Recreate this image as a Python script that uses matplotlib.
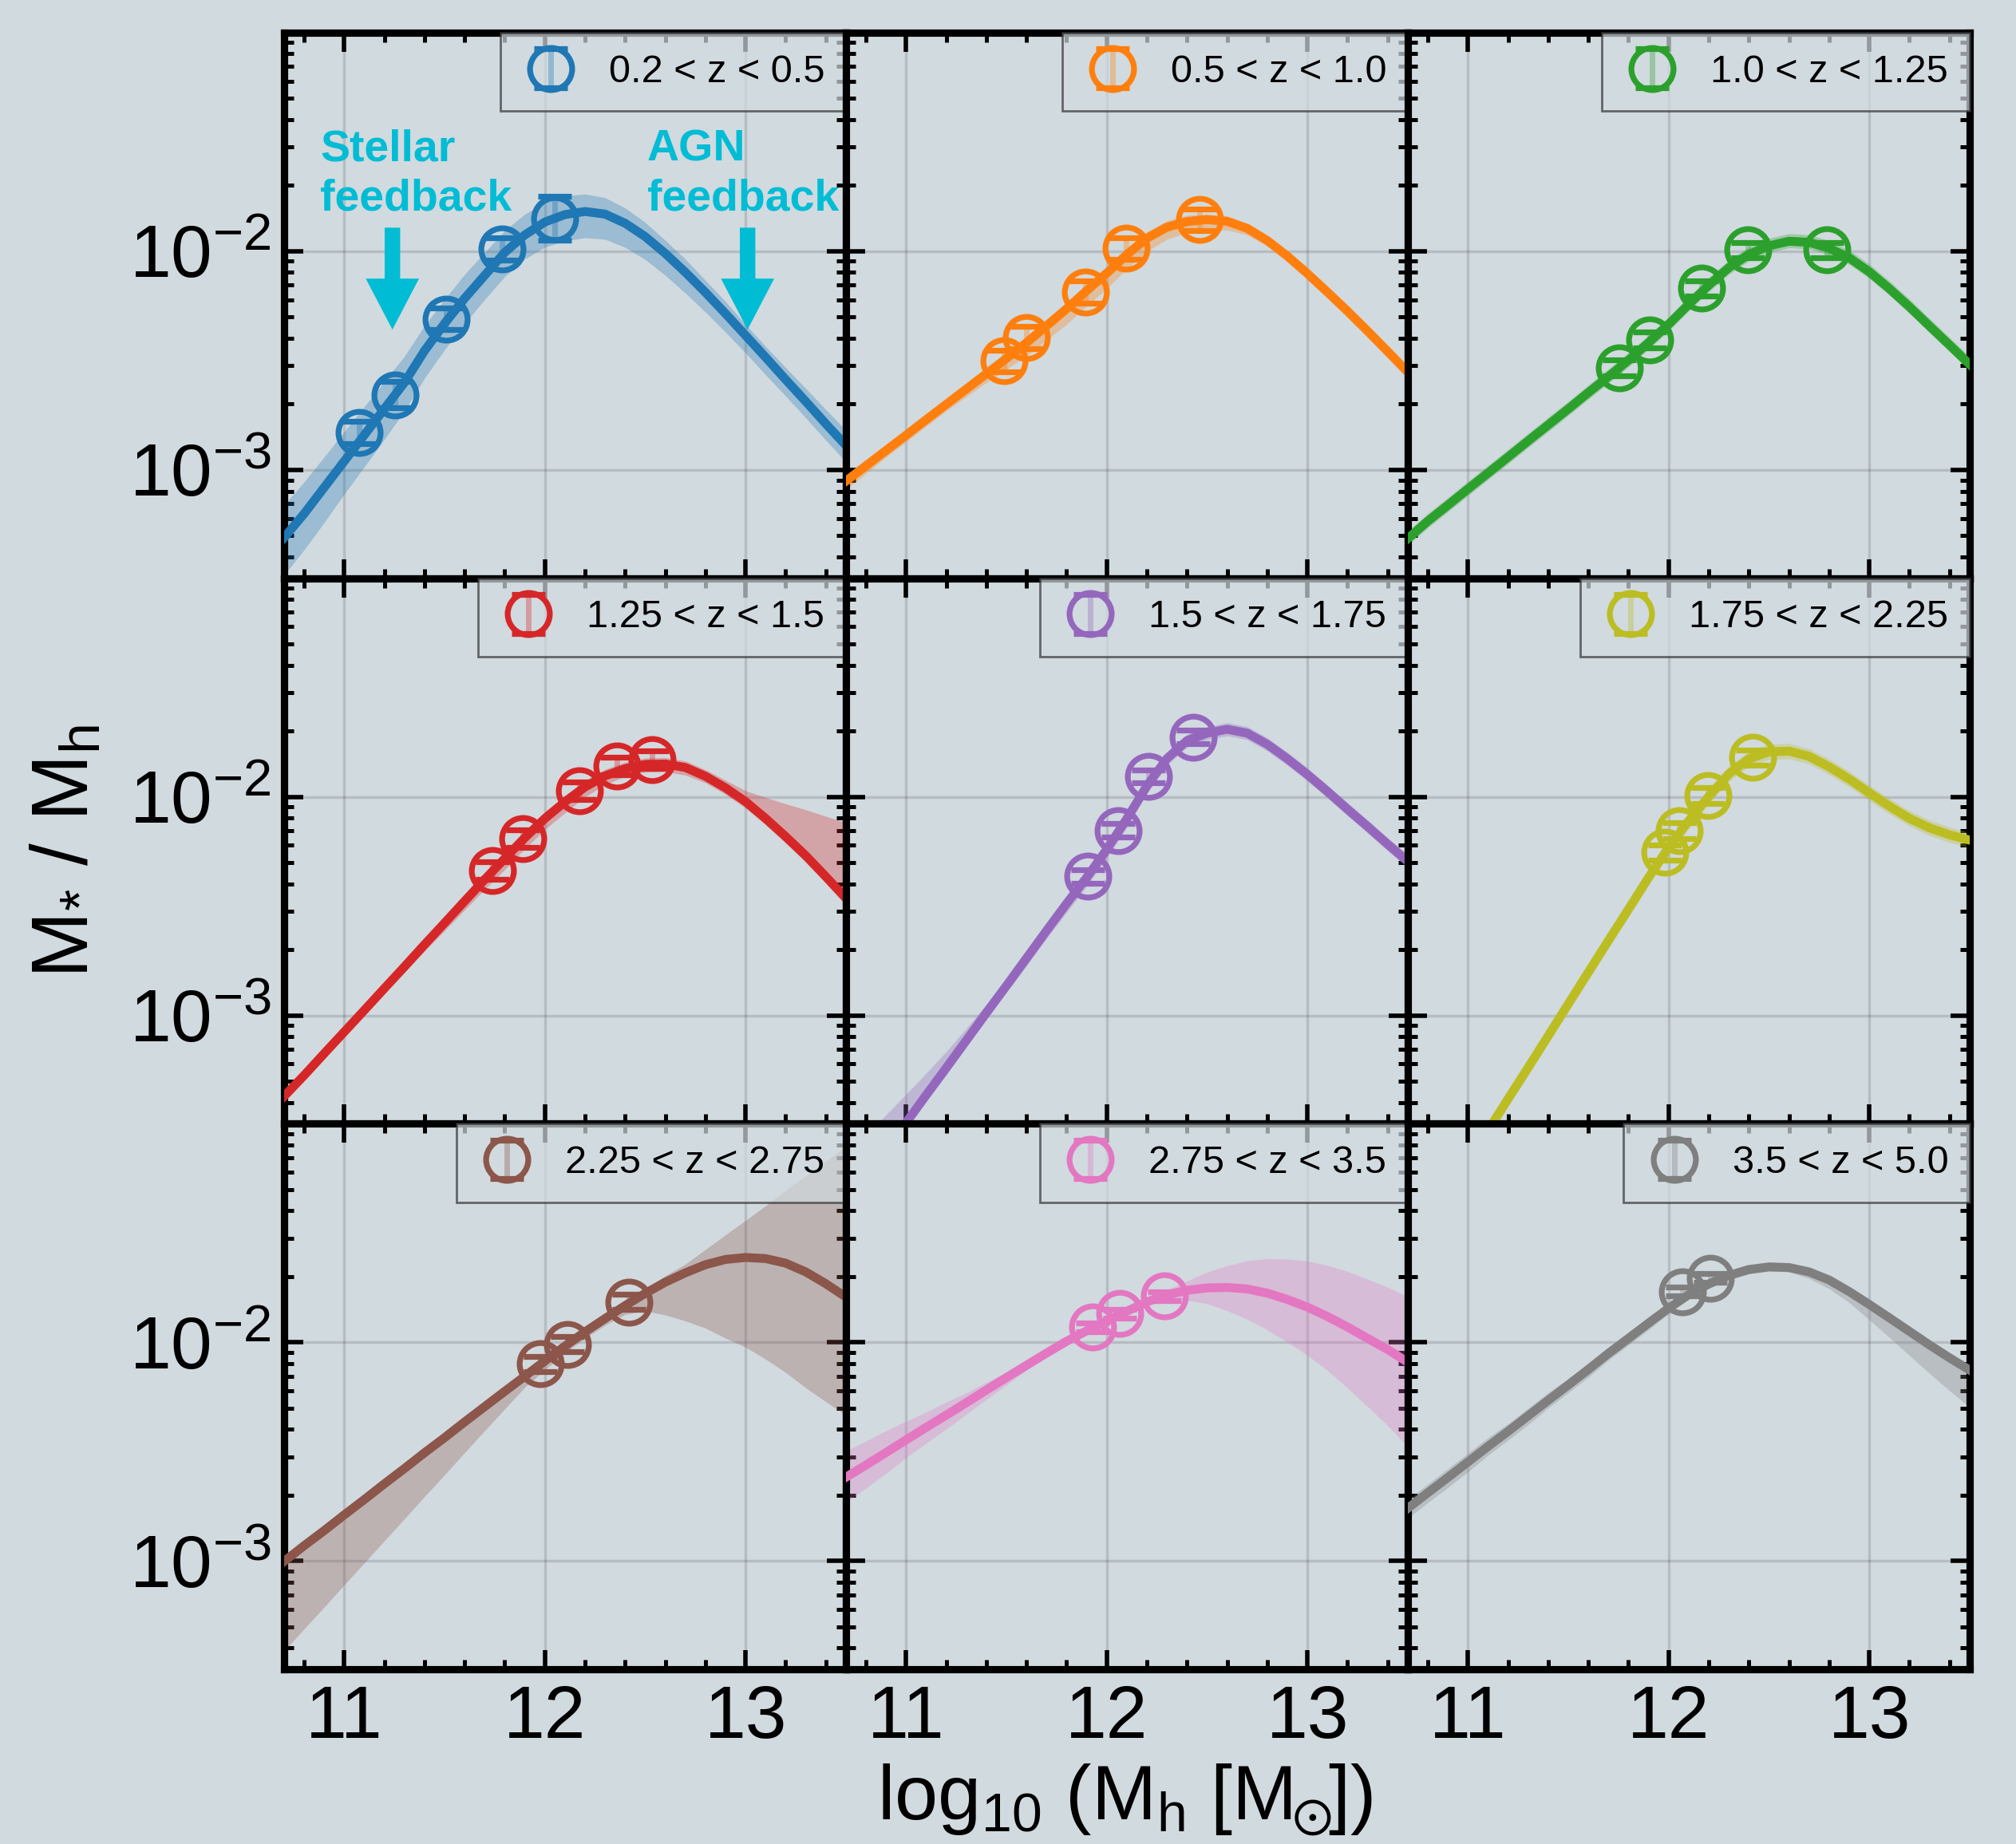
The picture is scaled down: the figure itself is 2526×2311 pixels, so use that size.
import numpy as np
import matplotlib.pyplot as plt
from matplotlib.ticker import MultipleLocator, LogLocator, NullFormatter

plt.rcParams['font.family'] = ['Liberation Sans', 'DejaVu Sans']
plt.rcParams['mathtext.fontset'] = 'custom'
plt.rcParams['mathtext.rm'] = 'Liberation Sans'
plt.rcParams['mathtext.it'] = 'Liberation Sans:italic'
plt.rcParams['mathtext.bf'] = 'Liberation Sans:bold'
plt.rcParams['mathtext.sf'] = 'Liberation Sans'
plt.rcParams['mathtext.default'] = 'regular'
plt.rcParams['mathtext.fallback'] = 'stixsans'

# ---------------------------------------------------------------
# data (log10 of M*/Mh)

z_labels = ['0.2 < z < 0.5', '0.5 < z < 1.0', '1.0 < z < 1.25',
            '1.25 < z < 1.5', '1.5 < z < 1.75', '1.75 < z < 2.25',
            '2.25 < z < 2.75', '2.75 < z < 3.5', '3.5 < z < 5.0']

colors = ['#1f77b4', '#ff7f0e', '#2ca02c', '#d62728', '#9467bd',
          '#bcbd22', '#8c564b', '#e377c2', '#7f7f7f']

mh_grid = [10.7, 10.8, 10.9, 11.0, 11.1, 11.2, 11.3, 11.4, 11.5, 11.6,
           11.7, 11.8, 11.9, 12.0, 12.1, 12.2, 12.3, 12.4, 12.5, 12.6,
           12.7, 12.8, 12.9, 13.0, 13.1, 13.2, 13.3, 13.4, 13.5]

# best fit relation, one list per redshift bin
curve_log = [
    [-3.31, -3.20, -3.08, -2.96, -2.84, -2.72, -2.60, -2.455, -2.33, -2.215,
     -2.11, -2.005, -1.925, -1.866, -1.832, -1.818, -1.830, -1.872, -1.933, -2.010,
     -2.096, -2.188, -2.285, -2.385, -2.485, -2.587, -2.687, -2.789, -2.888],
    [-3.051, -2.981, -2.911, -2.841, -2.770, -2.700, -2.630, -2.560, -2.490, -2.418,
     -2.341, -2.263, -2.180, -2.100, -2.015, -1.940, -1.890, -1.864, -1.855, -1.863,
     -1.895, -1.951, -2.022, -2.102, -2.187, -2.274, -2.365, -2.458, -2.553],
    [-3.314, -3.234, -3.161, -3.087, -3.014, -2.941, -2.867, -2.794, -2.721, -2.646,
     -2.573, -2.498, -2.418, -2.334, -2.243, -2.155, -2.075, -2.014, -1.975, -1.954,
     -1.959, -1.986, -2.030, -2.094, -2.171, -2.254, -2.342, -2.429, -2.517],
    [-3.370, -3.274, -3.174, -3.075, -2.976, -2.876, -2.777, -2.676, -2.577, -2.477,
     -2.378, -2.282, -2.187, -2.099, -2.023, -1.955, -1.904, -1.871, -1.852, -1.850,
     -1.866, -1.906, -1.959, -2.022, -2.099, -2.182, -2.269, -2.365, -2.464],
    [-3.864, -3.740, -3.614, -3.490, -3.364, -3.240, -3.114, -2.988, -2.864, -2.738,
     -2.612, -2.488, -2.369, -2.240, -2.100, -1.950, -1.825, -1.743, -1.709, -1.691,
     -1.709, -1.760, -1.826, -1.898, -1.976, -2.057, -2.136, -2.217, -2.295],
    [-4.105, -3.960, -3.815, -3.670, -3.526, -3.381, -3.238, -3.093, -2.947, -2.802,
     -2.657, -2.514, -2.369, -2.231, -2.110, -1.998, -1.895, -1.826, -1.794, -1.791,
     -1.815, -1.863, -1.919, -1.982, -2.043, -2.099, -2.142, -2.174, -2.198],
    [-3.002, -2.930, -2.861, -2.789, -2.719, -2.647, -2.577, -2.505, -2.436, -2.364,
     -2.294, -2.224, -2.155, -2.085, -2.017, -1.952, -1.891, -1.832, -1.776, -1.725,
     -1.682, -1.645, -1.621, -1.612, -1.617, -1.638, -1.678, -1.732, -1.793],
    [-2.617, -2.561, -2.504, -2.446, -2.389, -2.333, -2.276, -2.218, -2.161, -2.105,
     -2.049, -1.995, -1.947, -1.903, -1.858, -1.815, -1.783, -1.762, -1.751, -1.749,
     -1.756, -1.775, -1.804, -1.839, -1.882, -1.930, -1.982, -2.033, -2.091],
    [-2.759, -2.688, -2.618, -2.547, -2.476, -2.407, -2.336, -2.265, -2.195, -2.124,
     -2.051, -1.982, -1.912, -1.844, -1.782, -1.733, -1.694, -1.667, -1.655, -1.658,
     -1.678, -1.715, -1.768, -1.827, -1.888, -1.950, -2.012, -2.071, -2.127],
]

# width of the shaded band below / above the curve (dex)
band_lo = [
    [.17, .165, .16, .15, .145, .14, .13, .125, .12, .115, .11, .11, .11, .115, .12,
     .12, .115, .11, .105, .10, .095, .09, .085, .08, .08, .075, .075, .075, .075],
    [.04, .035, .03, .03, .03, .03, .035, .04, .05, .06, .065, .07, .07, .07, .065,
     .06, .055, .05, .045, .04, .03, .025, .02, .015, .015, .015, .015, .015, .015],
    [.03, .03, .03, .03, .03, .03, .03, .03, .03, .03, .03, .03, .03, .03, .03,
     .03, .03, .03, .03, .03, .03, .03, .03, .03, .03, .03, .03, .03, .03],
    [.02, .02, .02, .02, .02, .02, .025, .03, .035, .04, .045, .05, .05, .05, .05,
     .045, .04, .035, .035, .035, .035, .03, .03, .03, .03, .03, .03, .03, .03],
    [.03, .03, .03, .03, .03, .03, .03, .03, .03, .035, .035, .04, .04, .04, .04,
     .035, .03, .03, .03, .03, .03, .03, .03, .03, .03, .03, .03, .03, .03],
    [.035, .035, .035, .035, .035, .035, .035, .035, .035, .035, .035, .035, .035, .035, .035,
     .035, .035, .035, .035, .035, .035, .035, .035, .035, .035, .035, .035, .035, .035],
    [.41, .38, .35, .32, .29, .26, .23, .20, .17, .14, .11, .08, .05, .04, .03,
     .03, .03, .04, .08, .15, .22, .29, .36, .41, .46, .50, .53, .54, .54],
    [.115, .105, .095, .081, .072, .063, .053, .043, .033, .022, .018, .015, .015, .015, .015,
     .015, .016, .045, .072, .106, .138, .168, .195, .22, .247, .279, .312, .348, .386],
    [.045, .045, .045, .045, .04, .04, .04, .035, .035, .035, .03, .03, .03, .025, .02,
     .02, .02, .02, .02, .02, .03, .04, .05, .07, .09, .11, .13, .15, .17],
]
band_hi = [
    [.15, .145, .14, .135, .13, .125, .12, .115, .11, .11, .105, .10, .095, .09, .085,
     .08, .075, .07, .065, .06, .06, .055, .055, .05, .05, .055, .06, .065, .07],
    [.01, .01, .01, .01, .015, .015, .02, .02, .025, .03, .03, .03, .03, .03, .03,
     .03, .03, .03, .025, .025, .02, .02, .015, .015, .015, .015, .015, .015, .015],
    [.035, .035, .035, .035, .035, .035, .035, .035, .035, .035, .035, .035, .035, .035, .035,
     .035, .035, .035, .035, .035, .035, .035, .035, .035, .035, .035, .035, .035, .035],
    [.02, .02, .02, .02, .02, .02, .02, .02, .025, .03, .03, .03, .03, .03, .03,
     .03, .03, .03, .03, .03, .03, .03, .035, .05, .096, .15, .21, .276, .346],
    [.22, .19, .16, .13, .10, .075, .055, .04, .035, .03, .03, .03, .03, .03, .03,
     .03, .03, .03, .03, .03, .03, .03, .03, .03, .03, .03, .03, .03, .03],
    [.035, .035, .035, .035, .035, .035, .035, .035, .035, .035, .035, .035, .035, .035, .035,
     .035, .035, .035, .035, .035, .035, .035, .035, .035, .035, .035, .035, .035, .035],
    [.01, .01, .01, .01, .01, .01, .01, .01, .01, .01, .01, .01, .015, .02, .02,
     .02, .02, .02, .02, .03, .04, .07, .113, .17, .242, .333, .44, .56, .69],
    [.12, .11, .10, .085, .07, .06, .045, .035, .025, .02, .015, .015, .015, .015, .015,
     .015, .024, .043, .072, .10, .129, .158, .185, .211, .234, .254, .271, .285, .30],
    [.04, .04, .04, .04, .04, .035, .035, .035, .03, .03, .03, .03, .025, .025, .02,
     .02, .02, .02, .02, .02, .02, .02, .02, .02, .02, .02, .02, .02, .02],
]

# measured points
pts_x = [
    [11.074, 11.254, 11.508, 11.786, 12.047],
    [11.486, 11.598, 11.893, 12.095, 12.463],
    [11.753, 11.905, 12.165, 12.394, 12.787],
    [11.739, 11.888, 12.172, 12.359, 12.533],
    [11.906, 12.056, 12.209, 12.430],
    [11.982, 12.054, 12.194, 12.418],
    [11.976, 12.113, 12.420],
    [11.929, 12.066, 12.286],
    [12.067, 12.207],
]
pts_logy = [
    [-2.828, -2.656, -2.309, -1.990, -1.849],
    [-2.501, -2.394, -2.187, -1.987, -1.856],
    [-2.533, -2.405, -2.169, -1.994, -1.994],
    [-2.338, -2.190, -1.971, -1.860, -1.831],
    [-2.364, -2.153, -1.907, -1.726],
    [-2.254, -2.155, -1.994, -1.820],
    [-2.098, -2.009, -1.815],
    [-1.930, -1.868, -1.788],
    [-1.768, -1.706],
]
pts_err = [
    [0.05, 0.06, 0.05, 0.05, 0.10],
    [0.05, 0.05, 0.05, 0.05, 0.05],
    [0.035, 0.035, 0.035, 0.035, 0.035],
    [0.04, 0.04, 0.04, 0.04, 0.04],
    [0.03, 0.03, 0.03, 0.03],
    [0.035, 0.035, 0.035, 0.035],
    [0.035, 0.035, 0.035],
    [0.02, 0.02, 0.02],
    [0.02, 0.02],
]

bg = '#d1dadf'
cyan = '#00bcd4'

# ---------------------------------------------------------------
fig, axes = plt.subplots(3, 3, sharex=True, sharey=True,
                         figsize=(12.63, 11.555), dpi=200)
fig.patch.set_facecolor(bg)
fig.subplots_adjust(left=0.1409, right=0.977, top=0.9823, bottom=0.0948,
                    wspace=0, hspace=0)

mh = np.array(mh_grid)
for k, ax in enumerate(axes.flat):
    c = colors[k]
    y = np.array(curve_log[k])
    lo = y - np.array(band_lo[k])
    hi = y + np.array(band_hi[k])
    ax.fill_between(mh, 10**lo, 10**hi, color=c, alpha=0.3, lw=0, zorder=2)
    ax.plot(mh, 10**y, color=c, lw=4, zorder=3)

    py = np.array(pts_logy[k])
    pe = np.array(pts_err[k])
    yv = 10**py
    yerr = [yv - 10**(py - pe), 10**(py + pe) - yv]
    eb = ax.errorbar(pts_x[k], yv, yerr=yerr, fmt='o', ms=19, mfc='none',
                     mec=c, mew=2.6, ecolor=c, elinewidth=2.5, capsize=7.5,
                     capthick=2.2, label=z_labels[k], zorder=4)
    eb[2][0].set_alpha(0.35)

    ax.set_facecolor(bg)
    ax.set_yscale('log')
    ax.set_xlim(10.7, 13.5)
    ax.set_ylim(3.2e-4, 0.1)
    ax.set_xticks([11, 12, 13])
    ax.xaxis.set_minor_locator(MultipleLocator(0.2))
    ax.set_yticks([1e-3, 1e-2])
    ax.yaxis.set_minor_locator(LogLocator(base=10, subs=np.arange(2, 10)))
    ax.yaxis.set_minor_formatter(NullFormatter())
    ax.tick_params(which='both', direction='in', top=True, right=True,
                   labelsize=33.5)
    ax.tick_params(which='major', length=8.5, width=2)
    ax.tick_params(which='minor', length=4.3, width=1.8)
    ax.tick_params(axis='x', pad=7)
    ax.tick_params(axis='y', pad=6)
    ax.grid(True, which='major', color='k', alpha=0.13, lw=1.2)
    for sp in ax.spines.values():
        sp.set_linewidth(3.3)

    leg = ax.legend(loc='upper right', borderaxespad=0, fancybox=False,
                    fontsize=17.5, framealpha=0.7, facecolor=bg,
                    edgecolor='#333333', handletextpad=0.75, borderpad=0.55,
                    handlelength=1.5)
    leg.get_frame().set_linewidth(1.0)

# feedback annotations in the first panel
ax0 = axes[0, 0]
ax0.text(10.88, 10**-1.814, 'Stellar\nfeedback', color=cyan, fontsize=20,
         fontweight='bold', ha='left', va='baseline', linespacing=1.25,
         zorder=6)
ax0.text(12.51, 10**-1.814, 'AGN\nfeedback', color=cyan, fontsize=20,
         fontweight='bold', ha='left', va='baseline', linespacing=1.25,
         zorder=6)
for xa in [11.24, 13.01]:
    ax0.annotate('', xy=(xa, 10**-2.358), xytext=(xa, 10**-1.892),
                 arrowprops=dict(width=7, headwidth=24, headlength=23,
                                 color=cyan, shrink=0, lw=0), zorder=6)

fig.text(0.0333, 0.5385, r'M$_{*}$ / M$_\mathregular{h}$', rotation=90,
         ha='center', va='center', fontsize=36)
fig.text(0.558, 0.0134, r'log$_{10}$ (M$_\mathregular{h}$ [M$_{\!\!\odot\!\!}$])',
         ha='center', va='baseline', fontsize=35)

fig.savefig('out.png', dpi=200, facecolor=bg)
